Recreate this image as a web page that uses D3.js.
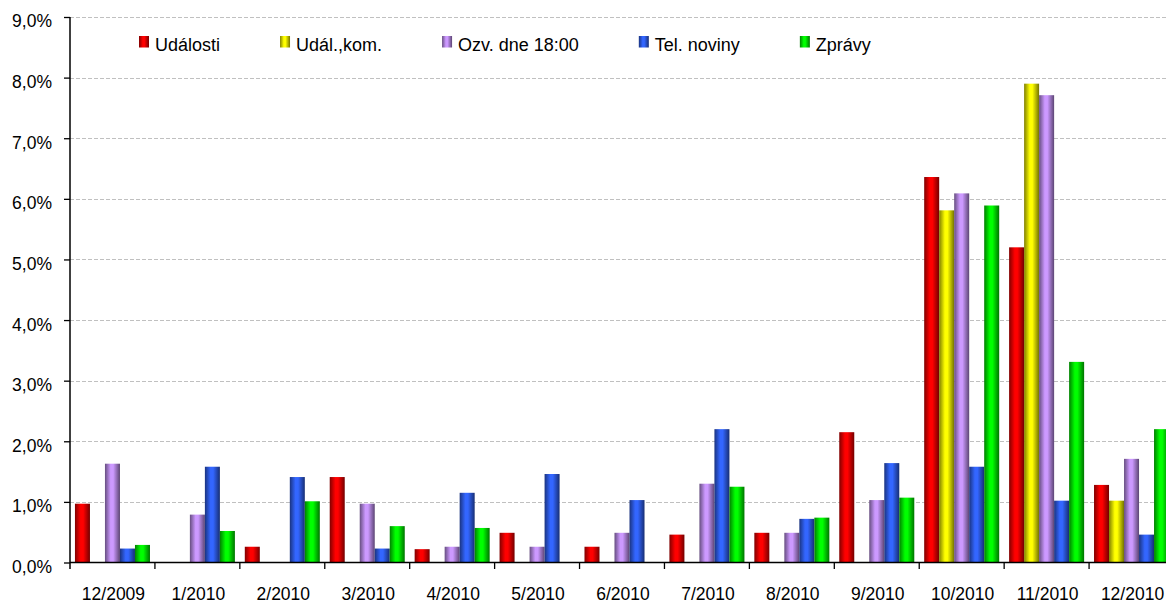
<!DOCTYPE html>
<html>
<head>
<meta charset="utf-8">
<script src="https://cdn.jsdelivr.net/npm/d3@7"></script>
<style>
body { margin: 0; background: #fff; }
svg { display: block; font-family: "Liberation Sans", Arial, sans-serif; }
</style>
</head>
<body>
<div id="chart"></div>
<script>
// categories (months) and series
var months = ['12/2009', '1/2010', '2/2010', '3/2010', '4/2010', '5/2010', '6/2010',
    '7/2010', '8/2010', '9/2010', '10/2010', '11/2010', '12/2010'];
var seriesNames = ['Události', 'Udál.,kom.', 'Ozv. dne 18:00', 'Tel. noviny', 'Zprávy'];
var seriesColors = ['#ff0000', '#ffff00', '#cc99ff', '#3366ff', '#00ff00'];

// values in percent, one array per series
var udalosti  = [0.97, 0, 0.26, 1.41, 0.22, 0.49, 0.26, 0.46, 0.49, 2.15, 6.36, 5.20, 1.28];
var udalKom   = [0, 0, 0, 0, 0, 0, 0, 0, 0, 0, 5.81, 7.90, 1.02];
var ozvDne    = [1.63, 0.79, 0, 0.97, 0.26, 0.26, 0.49, 1.30, 0.49, 1.03, 6.09, 7.71, 1.71];
var telNoviny = [0.23, 1.58, 1.41, 0.23, 1.15, 1.46, 1.03, 2.20, 0.72, 1.64, 1.58, 1.02, 0.46];
var zpravy    = [0.29, 0.52, 1.01, 0.60, 0.57, 0, 0, 1.25, 0.74, 1.07, 5.89, 3.31, 2.20];
var seriesValues = [udalosti, udalKom, ozvDne, telNoviny, zpravy];

var yTicks = [0, 1, 2, 3, 4, 5, 6, 7, 8, 9];

var chartW = 1166, chartH = 604;
var plotLeft = 70, plotBottom = 562.5, plotTop = 17;
var plotRight = 1174; // plot runs past the window edge

var svg = d3.select('#chart').append('svg')
    .attr('width', chartW)
    .attr('height', chartH);

// cylinder-like shading for each colour
var defs = svg.append('defs');
seriesColors.forEach(function(c, i) {
    var g = defs.append('linearGradient')
        .attr('id', 'grad' + i)
        .attr('x1', '0%').attr('x2', '100%')
        .attr('y1', '0%').attr('y2', '0%');
    var dark = d3.interpolateRgb(c, '#000')(0.5);
    var darker = d3.interpolateRgb(c, '#000')(0.55);
    g.append('stop').attr('offset', '0%').attr('stop-color', dark);
    g.append('stop').attr('offset', '38%').attr('stop-color', c);
    g.append('stop').attr('offset', '55%').attr('stop-color', c);
    g.append('stop').attr('offset', '100%').attr('stop-color', darker);
});

var x0 = d3.scaleBand().domain(months).range([plotLeft, plotRight]).padding(0);
var x1 = d3.scaleBand().domain(d3.range(seriesNames.length))
    .range([0, x0.bandwidth()]).paddingInner(0).paddingOuter(0.33);
var y = d3.scaleLinear().domain([0, 9]).range([plotBottom, plotTop]);

var fmt = function(d) { return d3.format('.1f')(d).replace('.', ',') + '%'; };

// gridlines
svg.append('g').selectAll('line')
    .data(yTicks.filter(function(d) { return d > 0; }))
    .enter().append('line')
    .attr('x1', plotLeft).attr('x2', chartW)
    .attr('y1', function(d) { return Math.round(y(d)) + 0.5; })
    .attr('y2', function(d) { return Math.round(y(d)) + 0.5; })
    .attr('stroke', '#c0c0c0')
    .attr('stroke-width', 1.2)
    .attr('stroke-dasharray', '4,2');

// bars
var groups = svg.append('g').selectAll('g')
    .data(months)
    .enter().append('g')
    .attr('transform', function(d) { return 'translate(' + x0(d) + ',0)'; });

groups.selectAll('rect')
    .data(function(m, mi) {
        return seriesValues.map(function(vals, si) { return { s: si, v: vals[mi] }; });
    })
    .enter().filter(function(d) { return d.v > 0; }).append('rect')
    .attr('x', function(d) { return x1(d.s); })
    .attr('width', x1.bandwidth())
    .attr('y', function(d) { return y(d.v); })
    .attr('height', function(d) { return plotBottom - y(d.v); })
    .attr('fill', function(d) { return 'url(#grad' + d.s + ')'; });

// y axis
var yAxis = svg.append('g')
    .attr('transform', 'translate(' + plotLeft + ',0)')
    .call(d3.axisLeft(y).tickValues(yTicks).tickFormat(fmt).tickSize(6).tickPadding(12));
yAxis.select('.domain').remove();
yAxis.selectAll('.tick line').attr('stroke', '#000').attr('stroke-width', 1.3);
yAxis.selectAll('.tick text')
    .attr('font-size', '17.5px')
    .attr('fill', '#000')
    .attr('font-family', '"Liberation Sans", Arial, sans-serif')
    .attr('dy', '0.57em');
svg.append('line')
    .attr('x1', plotLeft).attr('x2', plotLeft)
    .attr('y1', plotTop).attr('y2', plotBottom + 6.5)
    .attr('stroke', '#000').attr('stroke-width', 1.5);

// x axis
svg.append('line')
    .attr('x1', plotLeft).attr('x2', chartW)
    .attr('y1', plotBottom).attr('y2', plotBottom)
    .attr('stroke', '#000').attr('stroke-width', 1.5);

svg.append('g').selectAll('line')
    .data(months.slice(1))
    .enter().append('line')
    .attr('x1', function(d) { return x0(d); })
    .attr('x2', function(d) { return x0(d); })
    .attr('y1', plotBottom).attr('y2', plotBottom + 6.5)
    .attr('stroke', '#000').attr('stroke-width', 1.3);

svg.append('g').selectAll('text')
    .data(months)
    .enter().append('text')
    .attr('x', function(d) { return x0(d) + x0.bandwidth() / 2 + 1; })
    .attr('y', 600)
    .attr('text-anchor', 'middle')
    .attr('font-size', '17.5px')
    .attr('fill', '#000')
    .text(function(d) { return d; });

// legend
var legend = svg.append('g');
var lx = 139;
seriesNames.forEach(function(name, i) {
    legend.append('rect')
        .attr('x', lx).attr('y', 36)
        .attr('width', 10).attr('height', 11.5)
        .attr('fill', 'url(#grad' + i + ')');
    var t = legend.append('text')
        .attr('x', lx + 16).attr('y', 50.5)
        .attr('font-size', '18px')
        .attr('fill', '#000')
        .text(name);
    lx = lx + 16 + t.node().getComputedTextLength() + 60;
});
</script>
</body>
</html>
